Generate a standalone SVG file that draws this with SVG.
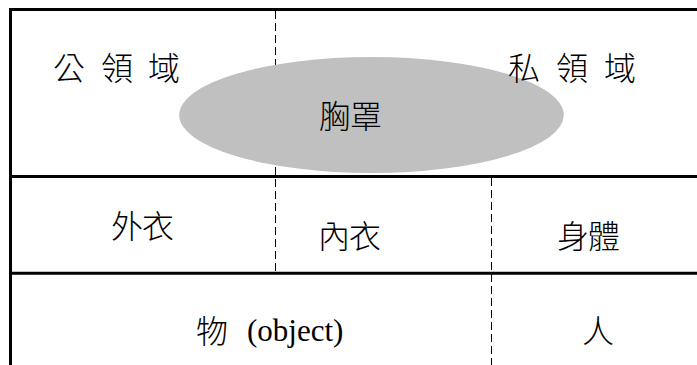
<svg xmlns="http://www.w3.org/2000/svg" width="697" height="365" viewBox="0 0 697 365">
<style>
.frame{stroke:#000;stroke-width:3;fill:none}
.dash{stroke:#000;stroke-width:1;stroke-dasharray:8 4;fill:none}
.cjk{font-family:"Noto Sans CJK TC","Noto Sans CJK SC",sans-serif;font-size:32px;font-weight:300;fill:#000}
.lat{font-family:"Liberation Serif",serif;font-size:31px;font-weight:400;fill:#000}
</style>
<rect width="697" height="365" fill="#fff"/>
<g id="connectors">
<line class="dash" x1="275.5" y1="11" x2="275.5" y2="272"/>
<line class="dash" x1="491.5" y1="178" x2="491.5" y2="365"/>
<line class="frame" x1="10.5" y1="9.5" x2="697" y2="9.5"/>
<line class="frame" x1="10.5" y1="8" x2="10.5" y2="365"/>
<line class="frame" x1="9" y1="176.5" x2="697" y2="176.5"/>
<line class="frame" x1="9" y1="273.3" x2="697" y2="273.3"/>
</g>
<g id="public-domain">
<text class="cjk" x="53 85 101 133 148" y="80">公 領 域</text>
</g>
<g id="bra">
<ellipse cx="371.5" cy="115" rx="192.3" ry="58" fill="#c0c0c0"/>
<text class="cjk" x="319 350" y="128">胸罩</text>
</g>
<g id="private-domain">
<text class="cjk" x="508 540 556 588 604" y="80">私 領 域</text>
</g>
<g id="outerwear">
<text class="cjk" x="111 142" y="238">外衣</text>
</g>
<g id="underwear">
<text class="cjk" x="318 349" y="248">內衣</text>
</g>
<g id="body">
<text class="cjk" x="557 588" y="248">身體</text>
</g>
<g id="object">
<text x="196" y="343"><tspan class="cjk">物</tspan><tspan class="lat" x="247" y="341">(object)</tspan></text>
</g>
<g id="person">
<text class="cjk" x="582" y="343">人</text>
</g>
</svg>
